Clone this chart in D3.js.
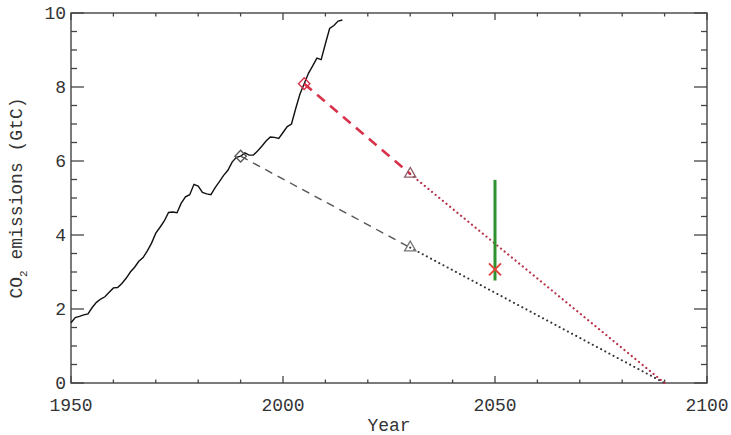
<!DOCTYPE html>
<html>
<head>
<meta charset="utf-8">
<script src="https://cdn.jsdelivr.net/npm/d3@7"></script>
<style>
  body { margin: 0; background: #fff; }
  text { font-family: "Liberation Mono", "DejaVu Sans Mono", monospace; fill: #333; }
</style>
</head>
<body>
<div id="chart"></div>
<script>
// historical fossil CO2 emissions (GtC), one value per year from 1950
var years = d3.range(1950, 2015);
var emissions = [1.63, 1.77, 1.80, 1.84, 1.87, 2.04, 2.18, 2.27, 2.33, 2.45,
                 2.57, 2.58, 2.69, 2.83, 3.00, 3.13, 3.29, 3.39, 3.57, 3.78,
                 4.05, 4.21, 4.38, 4.61, 4.62, 4.60, 4.86, 5.03, 5.09, 5.37,
                 5.32, 5.15, 5.11, 5.09, 5.28, 5.44, 5.61, 5.75, 5.97, 6.10,
                 6.13, 6.22, 6.16, 6.16, 6.27, 6.40, 6.54, 6.65, 6.64, 6.61,
                 6.77, 6.93, 7.00, 7.42, 7.81, 8.09, 8.37, 8.57, 8.78, 8.74,
                 9.17, 9.58, 9.66, 9.78, 9.81];

// scenario paths: start year/value, 2030 value, zero year
var blackPath = [[1990, 6.13], [2030, 3.66], [2090, 0]];
var redPath = [[2005, 8.09], [2030, 5.65], [2090, 0]];
var target2050 = [2.77, 5.49];   // green range
var cross2050 = 3.07;

var xMajor = [1950, 2000, 2050, 2100];
var xMinor = d3.range(1950, 2101, 10);
var yMajor = [0, 2, 4, 6, 8, 10];
var yMinor = d3.range(0, 10.01, 0.5);

var svgWidth = 731;
var svgHeight = 435;
var margin = {top: 13, right: 24, bottom: 52, left: 71};
var width = svgWidth - margin.left - margin.right;
var height = svgHeight - margin.top - margin.bottom;

var svg = d3.select("#chart")
  .append("svg")
  .attr("width", svgWidth)
  .attr("height", svgHeight)
  .append("g")
  .attr("transform", "translate(" + margin.left + "," + margin.top + ")");

var x = d3.scaleLinear().domain([1950, 2100]).range([0, width]);
var y = d3.scaleLinear().domain([0, 10]).range([height, 0]);

var axisColor = "#444";

// frame
svg.append("rect")
  .attr("width", width).attr("height", height)
  .attr("fill", "none").attr("stroke", axisColor).attr("stroke-width", 1.4);

// ticks on all four sides
var tickG = svg.append("g").attr("stroke", axisColor).attr("stroke-width", 1.3);
xMinor.forEach(function(v) {
  var len = xMajor.indexOf(v) >= 0 ? 7 : 3.5;
  tickG.append("line").attr("x1", x(v)).attr("x2", x(v)).attr("y1", height).attr("y2", height - len);
  tickG.append("line").attr("x1", x(v)).attr("x2", x(v)).attr("y1", 0).attr("y2", len);
});
yMinor.forEach(function(v) {
  var len = yMajor.indexOf(v) >= 0 ? 13 : 6;
  tickG.append("line").attr("x1", 0).attr("x2", len).attr("y1", y(v)).attr("y2", y(v));
  tickG.append("line").attr("x1", width).attr("x2", width - len).attr("y1", y(v)).attr("y2", y(v));
});

// tick labels
svg.append("g").selectAll("text")
  .data(xMajor).enter().append("text")
  .attr("x", d => x(d)).attr("y", height + 28)
  .attr("text-anchor", "middle").attr("font-size", 18)
  .text(d => d);
svg.append("g").selectAll("text")
  .data(yMajor).enter().append("text")
  .attr("x", -5).attr("y", d => y(d) + 6)
  .attr("text-anchor", "end").attr("font-size", 18)
  .text(d => d);

// axis titles
svg.append("text")
  .attr("x", width / 2).attr("y", height + 48)
  .attr("text-anchor", "middle").attr("font-size", 18)
  .text("Year");
var yt = svg.append("text")
  .attr("transform", "translate(" + (-49) + "," + (height / 2) + ") rotate(-90)")
  .attr("text-anchor", "middle").attr("font-size", 18);
yt.append("tspan").text("CO");
yt.append("tspan").attr("font-size", 11).attr("dy", 5).text("2");
yt.append("tspan").attr("dy", -5).text(" emissions (GtC)");

var line = d3.line().x(d => x(d[0])).y(d => y(d[1]));

// historical curve
svg.append("path")
  .datum(years.map((yr, i) => [yr, emissions[i]]))
  .attr("d", line)
  .attr("fill", "none").attr("stroke", "#111").attr("stroke-width", 1.4);

// black scenario
svg.append("path").datum(blackPath.slice(0, 2)).attr("d", line)
  .attr("fill", "none").attr("stroke", "#555").attr("stroke-width", 1.4)
  .attr("stroke-dasharray", "8,6");
svg.append("path").datum(blackPath.slice(1)).attr("d", line)
  .attr("fill", "none").attr("stroke", "#333").attr("stroke-width", 2)
  .attr("stroke-linecap", "round").attr("stroke-dasharray", "0.1,4.6");

// red scenario
svg.append("path").datum(redPath.slice(0, 2)).attr("d", line)
  .attr("fill", "none").attr("stroke", "#d8324a").attr("stroke-width", 2.6)
  .attr("stroke-dasharray", "10,7");
svg.append("path").datum(redPath.slice(1)).attr("d", line)
  .attr("fill", "none").attr("stroke", "#b8324a").attr("stroke-width", 2.2)
  .attr("stroke-linecap", "round").attr("stroke-dasharray", "0.1,4.6");

// markers
var diamond = d3.symbol().type(d3.symbolDiamond).size(50);
var tri = d3.symbol().type(d3.symbolTriangle).size(55);
svg.append("path").attr("d", diamond)
  .attr("transform", "translate(" + x(blackPath[0][0]) + "," + y(blackPath[0][1]) + ") scale(1.5,0.9)")
  .attr("fill", "none").attr("stroke", "#555").attr("stroke-width", 1.1);
svg.append("path").attr("d", diamond)
  .attr("transform", "translate(" + x(redPath[0][0]) + "," + y(redPath[0][1]) + ") scale(1.5,0.9)")
  .attr("fill", "none").attr("stroke", "#d8324a").attr("stroke-width", 1.1);
svg.append("path").attr("d", tri)
  .attr("transform", "translate(" + x(blackPath[1][0]) + "," + y(blackPath[1][1]) + ")")
  .attr("fill", "none").attr("stroke", "#777").attr("stroke-width", 1.3);
svg.append("path").attr("d", tri)
  .attr("transform", "translate(" + x(redPath[1][0]) + "," + y(redPath[1][1]) + ")")
  .attr("fill", "none").attr("stroke", "#8a6068").attr("stroke-width", 1.3);

// 2050 range and cross
svg.append("line")
  .attr("x1", x(2050)).attr("x2", x(2050))
  .attr("y1", y(target2050[0])).attr("y2", y(target2050[1]))
  .attr("stroke", "#2e932e").attr("stroke-width", 3);
svg.append("path")
  .attr("d", "M-6,-6L6,6M-6,6L6,-6")
  .attr("transform", "translate(" + x(2050) + "," + y(cross2050) + ")")
  .attr("stroke", "#e0463c").attr("stroke-width", 2);
</script>
</body>
</html>
